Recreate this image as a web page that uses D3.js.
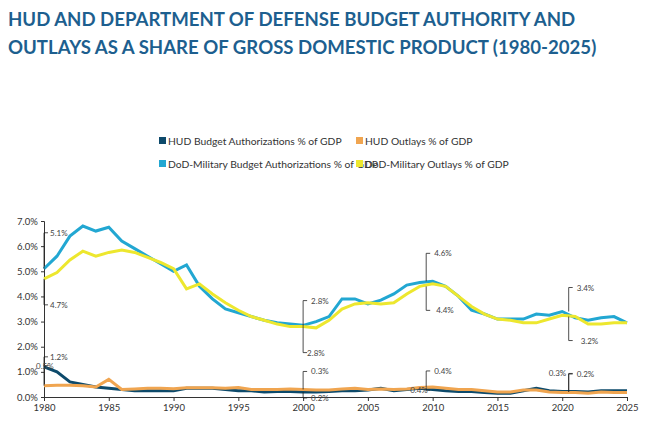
<!DOCTYPE html><html><head><meta charset="utf-8">
<script src="https://cdn.jsdelivr.net/npm/d3@7"></script>
<style>body{margin:0;background:#fff;font-family:Lato,sans-serif}</style></head><body>
<svg id="c" width="650" height="437"></svg>
<script>
const years = d3.range(1980, 2026);
const hudBA = [1.2,1.0,0.6,0.5,0.4,0.35,0.3,0.25,0.25,0.25,0.25,0.35,0.35,0.35,0.3,0.25,0.25,0.2,0.22,0.22,0.2,0.2,0.22,0.25,0.25,0.28,0.35,0.25,0.3,0.35,0.3,0.25,0.22,0.22,0.18,0.15,0.15,0.25,0.35,0.25,0.22,0.22,0.2,0.25,0.25,0.25];
const hudOut = [0.45,0.47,0.47,0.45,0.4,0.7,0.3,0.32,0.35,0.35,0.33,0.37,0.37,0.37,0.35,0.38,0.3,0.3,0.3,0.32,0.3,0.28,0.28,0.32,0.35,0.3,0.32,0.3,0.32,0.38,0.4,0.35,0.3,0.3,0.25,0.2,0.2,0.28,0.28,0.2,0.18,0.18,0.15,0.2,0.18,0.18];
const dodBA = [5.1,5.6,6.4,6.8,6.6,6.75,6.2,5.9,5.6,5.3,5.0,5.25,4.4,3.9,3.5,3.35,3.2,3.05,2.95,2.9,2.85,3.0,3.2,3.9,3.9,3.7,3.85,4.1,4.45,4.55,4.6,4.4,4.0,3.45,3.3,3.1,3.1,3.1,3.3,3.25,3.4,3.15,3.05,3.15,3.2,2.95];
const dodOut = [4.7,4.95,5.45,5.8,5.6,5.75,5.85,5.75,5.55,5.35,5.1,4.3,4.5,4.1,3.75,3.45,3.2,3.05,2.9,2.8,2.8,2.75,3.05,3.5,3.7,3.75,3.7,3.75,4.1,4.4,4.5,4.4,4.0,3.6,3.3,3.1,3.05,2.95,2.95,3.1,3.25,3.2,2.9,2.9,2.95,2.95];
const yTicks = [0,1,2,3,4,5,6,7];
const xTicks = d3.range(1980, 2026, 5);
const seriesNames = ["HUD Budget Authorizations % of GDP","HUD Outlays % of GDP","DoD-Military Budget Authorizations % of GDP","DoD-Military Outlays % of GDP"];
const colors = ["#0d4a6b","#f0a550","#22a7d2","#ede72e"];
const notes = [
 [1980,5.1,"5.1%",4,-36],[1980,4.7,"4.7%",4,26],
 [2000,2.8,"2.8%",6,-26],[2000,2.8,"2.8%",2,26],
 [2009.5,4.6,"4.6%",6,-28],[2009.5,4.4,"4.4%",8,24],
 [2020.5,3.4,"3.4%",6,-24],[2020.5,3.2,"3.2%",10,24],
 [1980,1.2,"1.2%",4,-10],[1980,0.45,"0.5%",-10,-20],
 [2000,0.3,"0.3%",6,-18],[2000,0.2,"0.2%",6,6],
 [2009.5,0.4,"0.4%",6,-16],[2009.5,0.35,"0.4%",-18,2],
 [2020.5,0.2,"0.2%",6,-18],[2020.5,0.22,"0.3%",-22,-18]
];
const svg = d3.select("#c");
svg.append("text").attr("x",8).attr("y",26).attr("fill","#1d5f8f").attr("font-size",18.6).attr("font-weight",700).text("HUD AND DEPARTMENT OF DEFENSE BUDGET AUTHORITY AND");
svg.append("text").attr("x",8).attr("y",54).attr("fill","#1d5f8f").attr("font-size",18.6).attr("font-weight",700).text("OUTLAYS AS A SHARE OF GROSS DOMESTIC PRODUCT (1980-2025)");
const x = d3.scaleLinear().domain([1980,2025]).range([44,627]);
const y = d3.scaleLinear().domain([0,7]).range([397,221]);
const g = svg.append("g");
g.append("g").attr("transform","translate(0,397)").call(d3.axisBottom(x).tickValues(xTicks).tickFormat(d3.format("d")).tickSize(4))
 .call(a=>{a.selectAll("text").attr("font-size",9.5).attr("fill","#333").attr("font-family","Lato");a.selectAll("line,path").attr("stroke","#333");});
g.append("g").attr("transform","translate(44,0)").call(d3.axisLeft(y).tickValues(yTicks).tickFormat(d=>d.toFixed(1)+"%").tickSize(3))
 .call(a=>{a.selectAll("text").attr("font-size",9.5).attr("fill","#333").attr("font-family","Lato");a.selectAll("line,path").attr("stroke","#333");});
const line = d3.line().x((d,i)=>x(years[i])).y(d=>y(d));
[dodBA,dodOut,hudBA,hudOut].forEach((s,k)=>{
 const c=[colors[2],colors[3],colors[0],colors[1]][k];
 g.append("path").attr("d",line(s)).attr("fill","none").attr("stroke",c).attr("stroke-width",3);
});
notes.forEach(([yr,v,t,dx,dy])=>{
 const px=x(yr), py=y(v), ly=py+dy;
 g.append("path").attr("d",`M${px},${py}L${px},${ly}L${px+4},${ly}`).attr("fill","none").attr("stroke","#222").attr("stroke-width",0.8);
 g.append("text").attr("x",px+dx+2).attr("y",ly+3).attr("font-size",8).attr("fill","#444").text(t);
});
const leg=[[168,141,0],[365,141,1],[168,164,2],[365,164,3]];
leg.forEach(([lx,ly,i])=>{
 svg.append("rect").attr("x",lx-9).attr("y",ly-4).attr("width",7).attr("height",7).attr("fill",colors[i]);
 svg.append("text").attr("x",lx).attr("y",ly+3.5).attr("font-size",10.3).attr("fill","#333").text(seriesNames[i]);
});
</script></body></html>
